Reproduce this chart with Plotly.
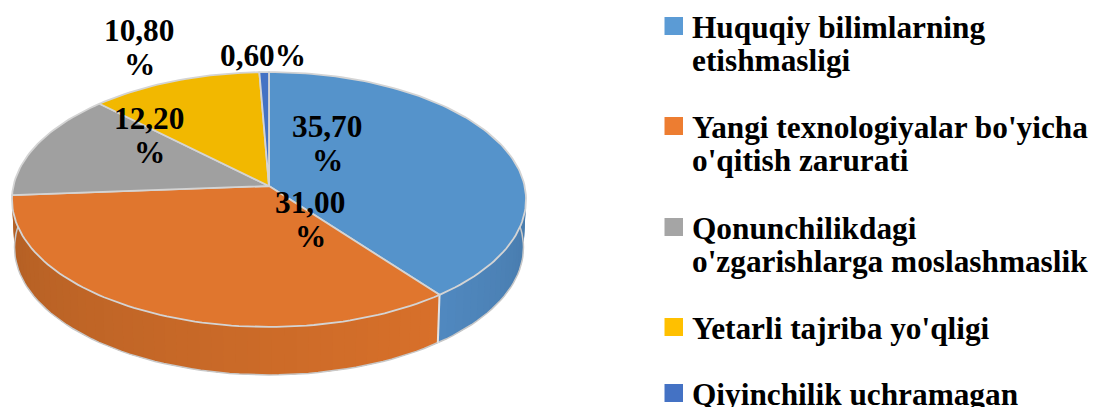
import math
import plotly.graph_objects as go

categories = ["Huquqiy bilimlarning etishmasligi", "Yangi texnologiyalar bo'yicha o'qitish zarurati",
              "Qonunchilikdagi o'zgarishlarga moslashmaslik", "Yetarli tajriba yo'qligi", "Qiyinchilik uchramagan"]
values = [35.7, 31.0, 12.2, 10.8, 0.6]
colors = ["#5593CB", "#E0762E", "#A0A0A0", "#F2B800", "#4472C4"]
legend_colors = ["#5B9BD5", "#ED7D31", "#A5A5A5", "#FFC000", "#4472C4"]
legend_lines = [["Huquqiy bilimlarning", "etishmasligi"], ["Yangi texnologiyalar bo'yicha", "o'qitish zarurati"],
                ["Qonunchilikdagi", "o'zgarishlarga moslashmaslik"], ["Yetarli tajriba yo'qligi"], ["Qiyinchilik uchramagan"]]
legend_y = [26, 126, 227, 327, 393]
value_labels = [["35,70", "%"], ["31,00", "%"], ["12,20", "%"], ["10,80", "%"], ["0,60%"]]
label_pos = [(327, 126), (310, 202), (149, 118), (139, 30), (263, 55)]

FONT = "Liberation Serif"
CX, CY, A, B, K, DEPTH = 269, 186, 255.6, 126, 0.106, 48
EDGE = "#D4D4D4"

def top(deg):
    t = math.radians(deg)
    u, v = math.sin(t), math.cos(t)
    w = 1 + K * v
    return CX + A * u / w, CY - B * v / w

def low(deg):
    x, y = top(deg)
    return CX + (x - CX) * 0.99, y + DEPTH

def side_colour(deg, i):
    if i == 0:
        f = min(1, max(0, (deg - 90) / 52))
        c0, c1 = (70, 120, 168), (80, 136, 191)
    else:
        f = min(1, max(0, (deg - 142) / 128))
        c0, c1 = (216, 112, 42), (176, 94, 36)
    return "rgb(%d,%d,%d)" % tuple(round(a + (b - a) * f) for a, b in zip(c0, c1))

fig = go.Figure()
total = sum(values)
bounds = [0]
for v in values:
    bounds.append(bounds[-1] + v / total * 360)

def add_poly(xs, ys, fill, line=None, width=0):
    if line:
        fig.add_trace(go.Scatter(x=xs, y=ys, mode="lines", fill="toself", fillcolor=fill,
                                 line=dict(color=line, width=width), hoverinfo="skip", showlegend=False))
    else:
        fig.add_trace(go.Scatter(x=xs, y=ys, mode="none", fill="toself", fillcolor=fill,
                                 hoverinfo="skip", showlegend=False))

# outer side: each strip overlaps the next one so that no seams appear
for i in (0, 1):
    lo, hi = max(bounds[i], 84), min(bounds[i + 1], 276)
    n = int((hi - lo) / 2.5) + 1
    for j in range(n):
        a0, a1 = lo + (hi - lo) * j / n, lo + (hi - lo) * (j + 1) / n
        end = a1 + 1.5
        p = [top(a0), top(end), low(end), low(a0)]
        add_poly([q[0] for q in p], [q[1] for q in p], side_colour((a0 + a1) / 2, i))

# rim of the side
rim = [low(84 + d * 2) for d in range(97)]
fig.add_trace(go.Scatter(x=[p[0] for p in rim], y=[p[1] for p in rim], mode="lines",
                         line=dict(color="#C8C8C8", width=1.5), hoverinfo="skip", showlegend=False))
b = bounds[1]
fig.add_trace(go.Scatter(x=[top(b)[0], low(b)[0]], y=[top(b)[1], low(b)[1]], mode="lines",
                         line=dict(color="#E2E2E2", width=2), hoverinfo="skip", showlegend=False))

# top faces
for i in range(len(values)):
    a0, a1 = bounds[i], bounds[i + 1]
    n = max(2, int((a1 - a0) / 1.5))
    p = [(CX, CY)] + [top(a0 + (a1 - a0) * j / n) for j in range(n + 1)] + [(CX, CY)]
    add_poly([q[0] for q in p], [q[1] for q in p], colors[i], EDGE, 1.8)

annotations = []
def text(x, y, s, anchor):
    annotations.append(dict(x=x, y=y, text="<b>%s</b>" % s, showarrow=False, xanchor=anchor, yanchor="middle",
                            xref="x", yref="y", font=dict(family=FONT, size=31.3, color="#000000")))

for lines, (x, y) in zip(value_labels, label_pos):
    for k, s in enumerate(lines):
        text(x, y + 34 * k, s, "center")

LEG_X = 689.5
shapes = []
for lines, y, c in zip(legend_lines, legend_y, legend_colors):
    shapes.append(dict(type="rect", x0=664.5, x1=683, y0=y - 9, y1=y + 9, xref="x", yref="y",
                       fillcolor=c, line=dict(width=0)))
    for k, s in enumerate(lines):
        text(LEG_X, y + 1 + 33.5 * k, s, "left")

fig.update_layout(width=1097, height=407, margin=dict(l=0, r=0, t=0, b=0),
                  paper_bgcolor="white", plot_bgcolor="white", showlegend=False,
                  xaxis=dict(range=[0, 1097], visible=False, fixedrange=True),
                  yaxis=dict(range=[407, 0], visible=False, fixedrange=True),
                  annotations=annotations, shapes=shapes)
fig.write_html("out.html", config=dict(displayModeBar=False),
               post_script="document.body.style.margin='0';document.body.style.overflow='hidden';")
